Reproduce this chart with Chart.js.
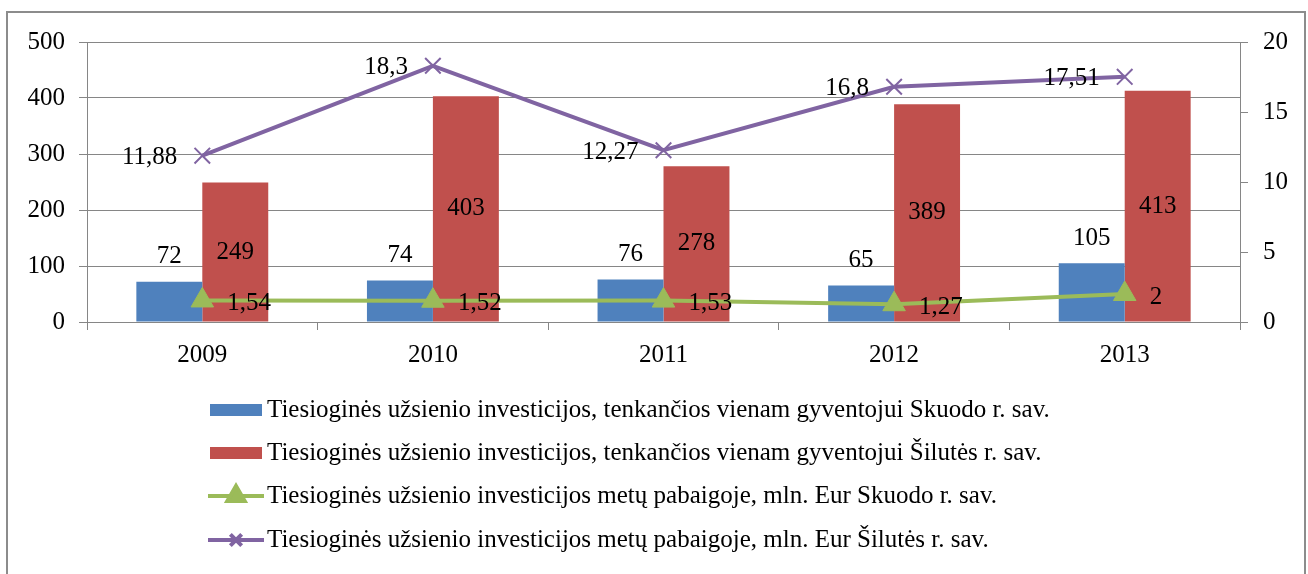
<!DOCTYPE html>
<html>
<head>
<meta charset="utf-8">
<style>
  html, body { margin: 0; padding: 0; background: #fff; }
  #wrap { width: 1308px; height: 574px; position: relative; }
</style>
<script src="https://cdn.jsdelivr.net/npm/chart.js@4/dist/chart.umd.min.js"></script>
</head>
<body>
<div id="wrap"><canvas id="grafica" width="1308" height="574"></canvas></div>
<script>
    "use strict";

    const metai = ['2009', '2010', '2011', '2012', '2013'];
    const skuodoVienam = [72, 74, 76, 65, 105];
    const silutesVienam = [249, 403, 278, 389, 413];
    const skuodoMln = [1.54, 1.52, 1.53, 1.27, 2];
    const silutesMln = [11.88, 18.3, 12.27, 16.8, 17.51];

    const pavadinimai = [
        'Tiesioginės užsienio investicijos, tenkančios vienam gyventojui Skuodo r. sav.',
        'Tiesioginės užsienio investicijos, tenkančios vienam gyventojui Šilutės r. sav.',
        'Tiesioginės užsienio investicijos metų pabaigoje, mln. Eur Skuodo r. sav.',
        'Tiesioginės užsienio investicijos metų pabaigoje, mln. Eur Šilutės r. sav.'
    ];

    const SRIFTAS = '"Liberation Serif", "Times New Roman", serif';
    const DYDIS = 25;
    const PILKA = '#868686';

    function skaicius(v) {
        return String(v).replace('.', ',');
    }

    // remelis aplink visa diagrama
    const remelis = {
        id: 'remelis',
        beforeDraw(chart) {
            const ctx = chart.ctx;
            ctx.save();
            ctx.strokeStyle = '#8c8c8c';
            ctx.lineWidth = 2;
            ctx.strokeRect(7, 12, 1298, 600);
            ctx.restore();
        }
    };

    // reiksmiu uzrasai
    const uzrasai = {
        id: 'uzrasai',
        afterDatasetsDraw(chart) {
            const ctx = chart.ctx;
            ctx.save();
            ctx.font = DYDIS + 'px ' + SRIFTAS;
            ctx.fillStyle = '#000';
            ctx.textBaseline = 'middle';
            chart.data.datasets.forEach(function (ds, i) {
                const meta = chart.getDatasetMeta(i);
                meta.data.forEach(function (el, j) {
                    const txt = skaicius(ds.data[j]);
                    if (i === 0) {
                        ctx.textAlign = 'center';
                        ctx.fillText(txt, el.x, el.y - 25);
                    } else if (i === 1) {
                        ctx.textAlign = 'center';
                        ctx.fillText(txt, el.x, (el.y + el.base) / 2);
                    } else if (i === 2) {
                        ctx.textAlign = 'left';
                        ctx.fillText(txt, el.x + 25, el.y + 3);
                    } else {
                        ctx.textAlign = 'right';
                        ctx.fillText(txt, el.x - 25, el.y + 2);
                    }
                });
            });
            ctx.restore();
        }
    };

    // legenda po diagrama
    const legenda = {
        id: 'legenda',
        afterDraw(chart) {
            const ctx = chart.ctx;
            const eilutes = [410, 453, 496, 540];
            ctx.save();
            ctx.font = DYDIS + 'px ' + SRIFTAS;
            ctx.textBaseline = 'middle';
            ctx.textAlign = 'left';
            chart.data.datasets.forEach(function (ds, i) {
                const y = eilutes[i];
                if (ds.type === 'bar') {
                    ctx.fillStyle = ds.backgroundColor;
                    ctx.fillRect(210, y - 6, 52, 12);
                } else {
                    ctx.strokeStyle = ds.borderColor;
                    ctx.lineWidth = 4;
                    ctx.beginPath();
                    ctx.moveTo(208, y);
                    ctx.lineTo(264, y);
                    ctx.stroke();
                    ctx.fillStyle = ds.pointBackgroundColor;
                    ctx.strokeStyle = ds.pointBorderColor;
                    Chart.helpers.drawPoint(ctx, {
                        pointStyle: ds.pointStyle,
                        radius: ds.pointStyle === 'triangle' ? 10 : 8,
                        borderWidth: 1,
                        rotation: 0
                    }, 236, y);
                }
                ctx.fillStyle = '#000';
                ctx.fillText(ds.label, 267, y);
            });
            ctx.restore();
        }
    };

    new Chart(document.getElementById('grafica').getContext('2d'), {
        data: {
            labels: metai,
            datasets: [{
                type: 'bar',
                label: pavadinimai[0],
                data: skuodoVienam,
                backgroundColor: '#4F81BD',
                yAxisID: 'y',
                order: 2,
                barPercentage: 1.0,
                categoryPercentage: 0.572
            }, {
                type: 'bar',
                label: pavadinimai[1],
                data: silutesVienam,
                backgroundColor: '#C0504D',
                yAxisID: 'y',
                order: 2,
                barPercentage: 1.0,
                categoryPercentage: 0.572
            }, {
                type: 'line',
                label: pavadinimai[2],
                data: skuodoMln,
                borderColor: '#9BBB59',
                borderWidth: 4,
                pointStyle: 'triangle',
                pointRadius: 13,
                pointBackgroundColor: '#9BBB59',
                pointBorderColor: '#9BBB59',
                pointBorderWidth: 1,
                tension: 0,
                yAxisID: 'y1',
                order: 1
            }, {
                type: 'line',
                label: pavadinimai[3],
                data: silutesMln,
                borderColor: '#8064A2',
                borderWidth: 4,
                pointStyle: 'crossRot',
                pointRadius: 11,
                pointBackgroundColor: '#8064A2',
                pointBorderColor: '#8064A2',
                pointBorderWidth: 2,
                tension: 0,
                yAxisID: 'y1',
                order: 1
            }]
        },
        options: {
            responsive: false,
            animation: false,
            layout: { padding: { top: 42, left: 0, right: 0, bottom: 0 } },
            plugins: {
                legend: { display: false },
                tooltip: { enabled: false }
            },
            scales: {
                x: {
                    afterFit: function (s) { s.height = 252; },
                    grid: { offset: true, drawOnChartArea: false, tickLength: 8, color: PILKA, tickColor: PILKA },
                    border: { color: PILKA },
                    ticks: { color: '#000', padding: 10, font: { family: SRIFTAS, size: DYDIS } }
                },
                y: {
                    position: 'left',
                    min: 0,
                    max: 500,
                    afterFit: function (s) { s.width = 87; },
                    grid: { color: PILKA, tickLength: 8, tickColor: PILKA },
                    border: { color: PILKA },
                    ticks: { stepSize: 100, color: '#000', padding: 14, font: { family: SRIFTAS, size: DYDIS } }
                },
                y1: {
                    position: 'right',
                    min: 0,
                    max: 20,
                    afterFit: function (s) { s.width = 68; },
                    grid: { drawOnChartArea: false, tickLength: 8, color: PILKA, tickColor: PILKA },
                    border: { color: PILKA },
                    ticks: { stepSize: 5, color: '#000', padding: 15, font: { family: SRIFTAS, size: DYDIS } }
                }
            }
        },
        plugins: [remelis, uzrasai, legenda]
    });
</script>
</body>
</html>
